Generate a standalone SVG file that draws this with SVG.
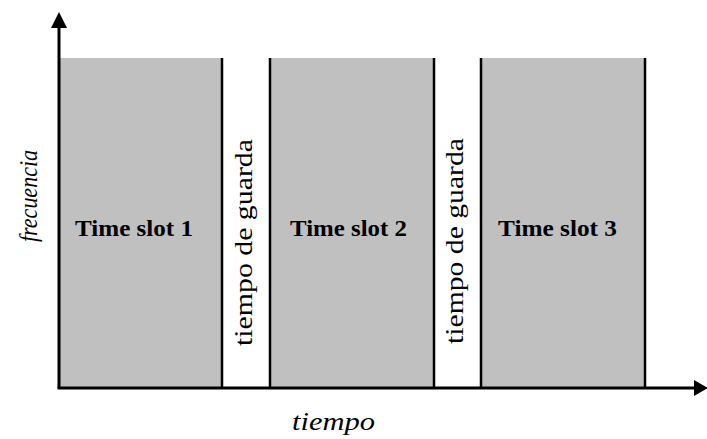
<svg xmlns="http://www.w3.org/2000/svg" width="707" height="439" viewBox="0 0 707 439">
<style>
.slot{fill:#c0c0c0;stroke:none}
.edge{stroke:#000;stroke-width:2.5;fill:none}
.ax{stroke:#000;stroke-width:3;fill:none}
.ts{font-family:"Liberation Serif",serif;font-weight:bold;font-size:24px;fill:#000}
.g{font-family:"Liberation Serif",serif;font-size:25px;fill:#000}
.lab{font-family:"Liberation Serif",serif;font-style:italic;font-size:25px;fill:#000}
</style>
<rect width="707" height="439" fill="#fff"/>
<g id="slot1"><rect class="slot" x="59" y="58" width="163" height="330"/><line class="edge" x1="222" y1="58" x2="222" y2="388"/><text class="ts" x="75" y="236" textLength="118" lengthAdjust="spacingAndGlyphs">Time slot 1</text></g>
<g id="guard1"><text class="g" transform="translate(252,346) rotate(-90)" textLength="207" lengthAdjust="spacingAndGlyphs">tiempo de guarda</text></g>
<g id="slot2"><rect class="slot" x="270" y="58" width="164" height="330"/><line class="edge" x1="270" y1="58" x2="270" y2="388"/><line class="edge" x1="434" y1="58" x2="434" y2="388"/><text class="ts" x="290" y="236" textLength="117" lengthAdjust="spacingAndGlyphs">Time slot 2</text></g>
<g id="guard2"><text class="g" transform="translate(463,344) rotate(-90)" textLength="206" lengthAdjust="spacingAndGlyphs">tiempo de guarda</text></g>
<g id="slot3"><rect class="slot" x="481" y="58" width="164" height="330"/><line class="edge" x1="481" y1="58" x2="481" y2="388"/><line class="edge" x1="645" y1="58" x2="645" y2="388"/><text class="ts" x="498" y="236" textLength="119" lengthAdjust="spacingAndGlyphs">Time slot 3</text></g>
<g id="axes">
<line class="ax" x1="59" y1="388" x2="59" y2="26"/>
<polygon points="59,12 51,28 67,28" fill="#000"/>
<line class="ax" x1="57.5" y1="388" x2="696" y2="388"/>
<polygon points="708,388 694,380 694,396" fill="#000"/>
</g>
<text class="lab" transform="translate(37,242) rotate(-90)" textLength="92" lengthAdjust="spacingAndGlyphs">frecuencia</text>
<text class="lab" x="292" y="430" textLength="83" lengthAdjust="spacingAndGlyphs">tiempo</text>
</svg>
